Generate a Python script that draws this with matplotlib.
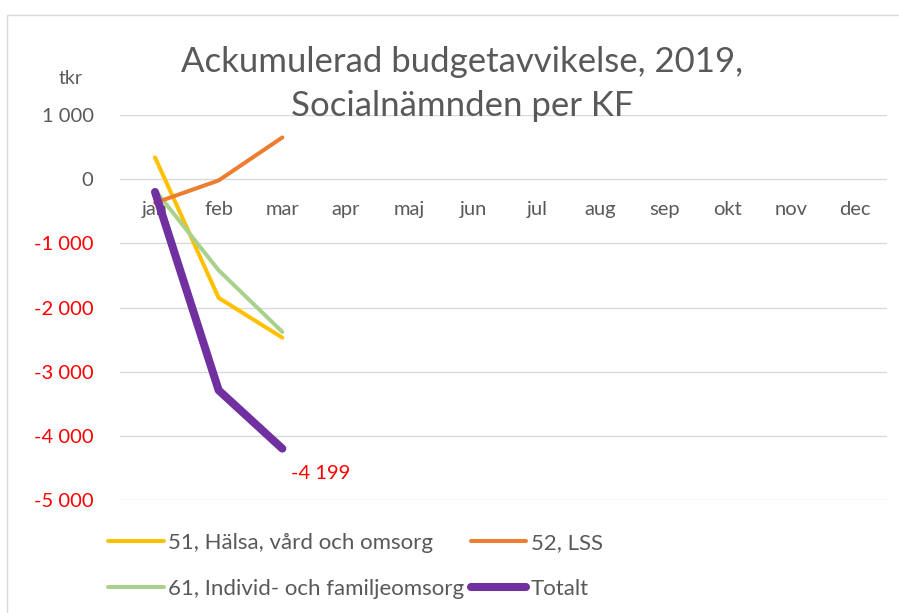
import matplotlib
matplotlib.use("Agg")
from matplotlib import pyplot as plt
from matplotlib.patches import Rectangle
from matplotlib.ticker import FuncFormatter

plt.rcParams['font.family'] = ['Lato', 'DejaVu Sans']

months = ['jan', 'feb', 'mar', 'apr', 'maj', 'jun', 'jul', 'aug', 'sep', 'okt', 'nov', 'dec']
halsa = [340, -1850, -2470]
lss = [-370, -20, 650]
ifo = [-170, -1420, -2380]
totalt = [-200, -3290, -4199]
yticks = [1000, 0, -1000, -2000, -3000, -4000, -5000]

W, H = 899, 613
fig = plt.figure(figsize=(W / 100, H / 100), dpi=100)
ax = fig.add_axes([120 / W, 1 - 500 / H, 767 / W, 385 / H])

gray = '#595959'
ax.plot(range(3), halsa, color='#FFC000', lw=2.9, solid_capstyle='round', label='51, Hälsa, vård och omsorg')
ax.plot(range(3), ifo, color='#A9D18E', lw=2.9, solid_capstyle='round', label='61, Individ- och familjeomsorg')
ax.plot(range(3), lss, color='#ED7D31', lw=2.9, solid_capstyle='round', label='52, LSS')
ax.plot(range(3), totalt, color='#7030A0', lw=5.8, solid_capstyle='round', label='Totalt')

ax.annotate(f"{totalt[-1]:,}".replace(',', ' '), xy=(2, totalt[-1]), xytext=(6, -18),
            textcoords='offset points', ha='left', va='center', color='#FF0000', fontsize=14.5)

ax.set_xlim(-0.55, 11.5)
ax.set_ylim(-5000, 1000)
ax.set_xticks(range(12))
ax.set_xticklabels(months)
ax.set_yticks(yticks)
ax.yaxis.set_major_formatter(FuncFormatter(lambda v, p: f"{int(v):,}".replace(',', ' ')))
ax.grid(axis='y', color='#d9d9d9', lw=1)
ax.set_axisbelow(True)
for s in ['top', 'right', 'left']:
    ax.spines[s].set_visible(False)
ax.spines['bottom'].set_position(('data', 0))
ax.spines['bottom'].set_visible(False)
ax.tick_params(axis='x', length=0, pad=16, labelsize=14.5, colors=gray)
ax.tick_params(axis='y', length=0, pad=19, labelsize=14.5)
fig.canvas.draw()
for lab in ax.get_yticklabels():
    lab.set_color('#FF0000' if lab.get_text().startswith('-') else gray)

fig.text(462 / W, 1 - 62 / H, 'Ackumulerad budgetavvikelse, 2019,', ha='center', va='center', fontsize=25, color=gray)
fig.text(462 / W, 1 - 106 / H, 'Socialnämnden per KF', ha='center', va='center', fontsize=25, color=gray)
fig.text(71 / W, 1 - 78 / H, 'tkr', ha='center', va='center', fontsize=14, color=gray)

fig.patches.append(Rectangle((7 / W, -0.1), 1.2, 1 - 15 / H + 0.1, transform=fig.transFigure,
                             fill=False, edgecolor='#d9d9d9', lw=1))

leg = fig.legend(loc='upper left', bbox_to_anchor=(108 / W, 1 - 533 / H), ncol=2, frameon=False,
                 fontsize=16, handlelength=2.5, handletextpad=0.2, columnspacing=0.3,
                 borderpad=0, borderaxespad=0, labelspacing=1.15)
for t in leg.get_texts():
    t.set_color(gray)

fig.savefig('out.png', dpi=100)
